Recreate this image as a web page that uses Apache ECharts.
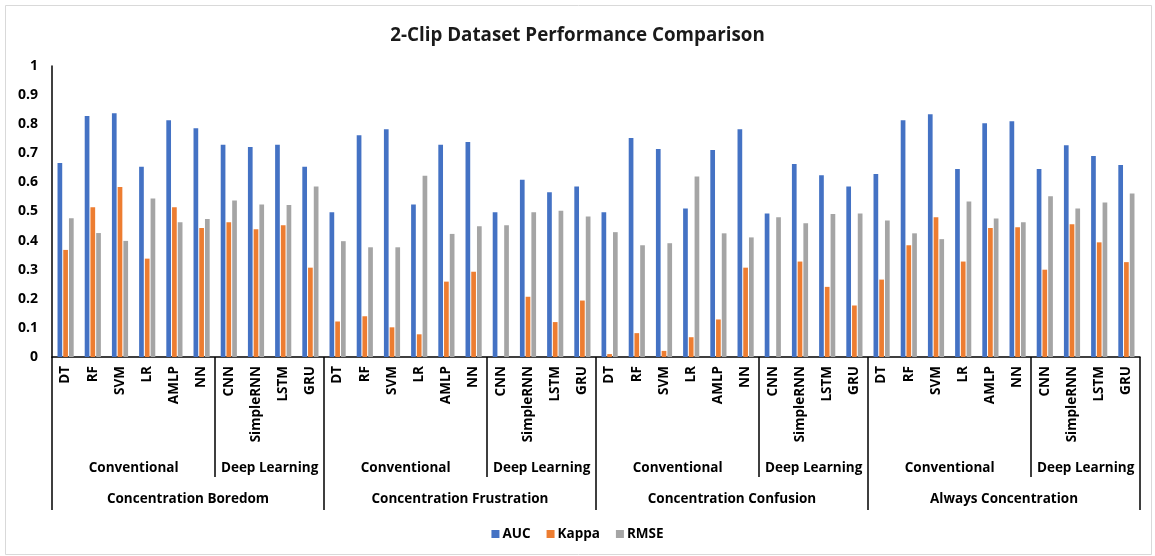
<!DOCTYPE html>
<html>
<head>
<meta charset="utf-8">
<title>2-Clip Dataset Performance Comparison</title>
<script src="https://cdn.jsdelivr.net/npm/echarts@6/dist/echarts.min.js"></script>
<style>
  html, body { margin: 0; padding: 0; background: #ffffff; }
  #chart { width: 1155px; height: 556px; }
</style>
</head>
<body>
<div id="chart"></div>
<script>
// Models evaluated within every target pair
const models = ['DT', 'RF', 'SVM', 'LR', 'AMLP', 'NN', 'CNN', 'SimpleRNN', 'LSTM', 'GRU'];
const familyNames = ['Conventional', 'Deep Learning'];
const familySizes = [6, 4];
const pairs = ['Concentration Boredom', 'Concentration Frustration', 'Concentration Confusion', 'Always Concentration'];

// Metric values, 10 models per pair, pairs in the order above
const auc = [
  0.667, 0.828, 0.838, 0.654, 0.814, 0.786, 0.729, 0.722, 0.729, 0.654,
  0.497, 0.762, 0.783, 0.524, 0.729, 0.739, 0.497, 0.609, 0.566, 0.586,
  0.497, 0.753, 0.715, 0.510, 0.711, 0.783, 0.493, 0.663, 0.625, 0.586,
  0.629, 0.814, 0.834, 0.646, 0.803, 0.810, 0.646, 0.728, 0.691, 0.660
];
const kappa = [
  0.368, 0.515, 0.584, 0.338, 0.515, 0.443, 0.463, 0.439, 0.453, 0.307,
  0.122, 0.140, 0.102, 0.078, 0.259, 0.293, 0.000, 0.207, 0.120, 0.194,
  0.010, 0.082, 0.021, 0.068, 0.129, 0.307, 0.000, 0.328, 0.241, 0.177,
  0.266, 0.384, 0.480, 0.328, 0.443, 0.446, 0.300, 0.456, 0.394, 0.326
];
const rmse = [
  0.477, 0.426, 0.399, 0.545, 0.463, 0.474, 0.538, 0.524, 0.522, 0.586,
  0.398, 0.377, 0.377, 0.623, 0.423, 0.449, 0.453, 0.497, 0.503, 0.483,
  0.429, 0.384, 0.391, 0.620, 0.425, 0.411, 0.480, 0.460, 0.491, 0.493,
  0.469, 0.425, 0.405, 0.534, 0.476, 0.463, 0.552, 0.510, 0.531, 0.562
];
const yTicks = [0, 0.1, 0.2, 0.3, 0.4, 0.5, 0.6, 0.7, 0.8, 0.9, 1];

// Category list for the bars (one entry per model per pair)
const categories = [];
pairs.forEach(() => models.forEach(m => categories.push(m)));
const n = categories.length;

// Boundary-based axes (n + 1 points) used for the family and pair levels
const familyLabels = new Array(n + 1).fill('');
const familyBreaks = new Set();
const pairLabels = new Array(n + 1).fill('');
const pairBreaks = new Set();
pairs.forEach((p, pi) => {
  const start = pi * models.length;
  pairLabels[start + models.length / 2] = p;
  pairBreaks.add(start);
  let off = start;
  familyNames.forEach((f, fi) => {
    familyBreaks.add(off);
    familyLabels[off + familySizes[fi] / 2] = f;
    off += familySizes[fi];
  });
});
pairBreaks.add(n);
familyBreaks.add(n);

const FONT = 'Open Sans';
const TXT = '#000000';
const boldLabel = { fontFamily: FONT, fontWeight: 'bold', fontSize: 13.5, color: TXT };

const chart = echarts.init(document.getElementById('chart'), null, { renderer: 'canvas' });

chart.setOption({
  animation: false,
  backgroundColor: '#ffffff',
  color: ['#4472C4', '#ED7D31', '#A5A5A5'],
  title: {
    text: '2-Clip Dataset Performance Comparison',
    left: 'center',
    top: 21,
    textStyle: { fontFamily: FONT, fontWeight: 'bold', fontSize: 18.8, color: '#1a1a1a' }
  },
  legend: {
    bottom: 10,
    left: 'center',
    icon: 'rect',
    itemWidth: 8,
    itemHeight: 8,
    itemGap: 16,
    textStyle: { fontFamily: FONT, fontWeight: 'bold', fontSize: 13.5, color: TXT, padding: [0, 0, 0, -2] },
    data: ['AUC', 'Kappa', 'RMSE']
  },
  graphic: [{
    type: 'rect',
    silent: true,
    z: -10,
    shape: { x: 5.5, y: 5.5, width: 1146, height: 549 },
    style: { fill: 'none', stroke: '#d9d9d9', lineWidth: 1 }
  }],
  grid: { left: 52, right: 15, top: 66, bottom: 199, containLabel: false },
  yAxis: {
    type: 'value',
    min: 0,
    max: 1,
    interval: 0.1,
    splitLine: { show: false },
    axisTick: { show: false },
    axisLine: { show: true, lineStyle: { color: '#000000', width: 1.5 } },
    axisLabel: Object.assign({ margin: 14, formatter: v => String(+v.toFixed(1)) }, boldLabel, { fontSize: 14 })
  },
  xAxis: [
    {
      type: 'category',
      data: categories,
      position: 'bottom',
      axisLine: { show: true, lineStyle: { color: '#000000', width: 1.5 } },
      axisTick: { show: false },
      axisLabel: Object.assign({ interval: 0, rotate: 90, margin: 9 }, boldLabel, { fontSize: 13.5 })
    },
    {
      type: 'category',
      data: familyLabels,
      boundaryGap: false,
      position: 'bottom',
      axisLine: { show: false },
      axisTick: {
        show: true,
        length: 120,
        interval: i => familyBreaks.has(i),
        lineStyle: { color: '#000000', width: 1.5 }
      },
      axisLabel: Object.assign({ interval: 0, margin: 104 }, boldLabel),
      splitLine: { show: false }
    },
    {
      type: 'category',
      data: pairLabels,
      boundaryGap: false,
      position: 'bottom',
      axisLine: { show: false },
      axisTick: {
        show: true,
        length: 153,
        interval: i => pairBreaks.has(i),
        lineStyle: { color: '#000000', width: 1.5 }
      },
      axisLabel: Object.assign({ interval: 0, margin: 135 }, boldLabel),
      splitLine: { show: false }
    }
  ],
  series: [
    { name: 'AUC', type: 'bar', xAxisIndex: 0, data: auc, barWidth: 4.7, barGap: '22%' },
    { name: 'Kappa', type: 'bar', xAxisIndex: 0, data: kappa, barWidth: 4.7, barGap: '22%' },
    { name: 'RMSE', type: 'bar', xAxisIndex: 0, data: rmse, barWidth: 4.7, barGap: '22%' }
  ]
});
</script>
</body>
</html>
